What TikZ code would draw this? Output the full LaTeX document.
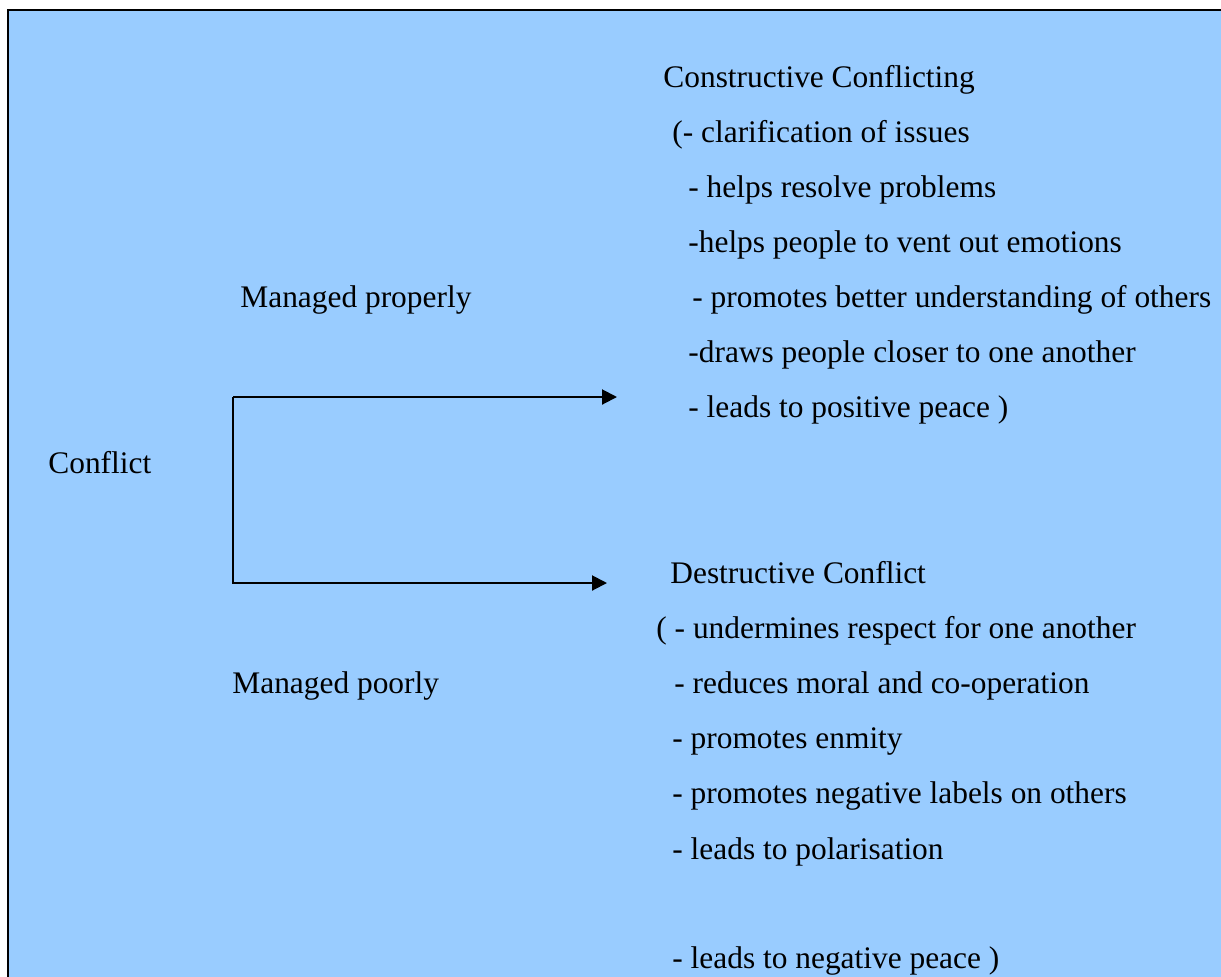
\documentclass[tikz,border=0pt]{standalone}
\usepackage{fontspec}
\setmainfont{Liberation Serif}
\usetikzlibrary{arrows.meta}
\definecolor{panelblue}{HTML}{99CCFF}
\tikzset{
	panel/.style={
		fill=panelblue,
		draw=black,
		line width=1pt,
	},
	txt/.style={
		anchor=base west,
		inner sep=0pt,
		font=\fontsize{15.7pt}{18pt}\selectfont,
	},
	flow/.style={
		line width=1pt,
		-{Triangle[length=7.5pt,width=7.5pt]}
	},
}
\begin{document}
\begin{tikzpicture}[x=0.5pt,y=-0.5pt]
		\useasboundingbox (0,0) rectangle (1221,976);
		\clip (0,0) rectangle (1221,976);
		\fill[white] (0,0) rectangle (1221,976);
		\draw[panel] (8,10) rectangle (1240,990);

		\node[txt] 		(conflict) at (48,473) {Conflict};
		\node[txt] 		(properly) at (240,307) {Managed properly};
		\node[txt] 		(poorly) at (232,693) {Managed poorly};

		% constructive side
		\node[txt] 		(constr) at (663,87) {Constructive Conflicting};
		\node[txt] 		(c1) at (672,142) {(- clarification of issues};
		\node[txt] 		(c2) at (688,197) {- helps resolve problems};
		\node[txt] 		(c3) at (688,252) {-helps people to vent out emotions};
		\node[txt] 		(c4) at (692,307) {- promotes better understanding of others};
		\node[txt] 		(c5) at (688,362) {-draws people closer to one another};
		\node[txt] 		(c6) at (688,417) {- leads to positive peace )};

		% destructive side
		\node[txt] 		(destr) at (670,583) {Destructive Conflict};
		\node[txt] 		(d1) at (656,638) {( - undermines respect for one another};
		\node[txt] 		(d2) at (674,693) {- reduces moral and co-operation};
		\node[txt] 		(d3) at (672,748) {- promotes enmity};
		\node[txt] 		(d4) at (672,803) {- promotes negative labels on others};
		\node[txt] 		(d5) at (672,859) {- leads to polarisation};
		\node[txt] 		(d6) at (672,968) {- leads to negative peace )};

		\coordinate 	(fork) at (233,397);
		\coordinate 	(goodend) at (617,397);
		\coordinate 	(badend) at (607,583);

		\draw[flow] 	(fork) -- (goodend);
		\draw[flow] 	(fork) |- (badend);

	\end{tikzpicture}
\end{document}
